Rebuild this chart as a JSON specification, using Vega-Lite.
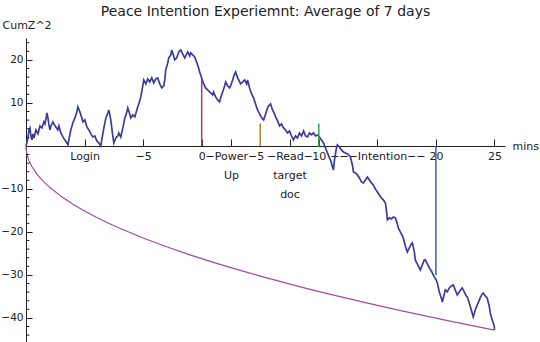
{
  "$schema": "https://vega.github.io/schema/vega-lite/v6.json",
  "width": 479,
  "height": 304,
  "autosize": {"type": "none"},
  "padding": {"left": 26, "top": 38, "right": 35, "bottom": 0},
  "background": "white",
  "title": {"text": "Peace Intention Experiemnt: Average of 7 days", "font": "DejaVu Sans", "fontSize": 14, "fontWeight": "normal", "color": "#222222", "anchor": "middle", "offset": 0},
  "config": {
    "view": {"stroke": null},
    "axis": {"grid": false, "labelFont": "DejaVu Sans", "titleFont": "DejaVu Sans", "labelFontSize": 11, "titleFontSize": 11, "titleFontWeight": "normal", "labelColor": "#222222", "titleColor": "#222222", "domainColor": "#222222", "tickColor": "#222222", "domainWidth": 1, "tickWidth": 1}
  },
  "datasets": {
    "walk": [
      {"x":-15,"y":0},{"x":-14.83,"y":1.86},{"x":-14.75,"y":3.72},{"x":-14.66,"y":4.19},{"x":-14.58,"y":2.33},{"x":-14.49,"y":1.4},{"x":-14.41,"y":2.79},{"x":-14.32,"y":1.86},{"x":-14.15,"y":3.72},{"x":-13.98,"y":2.79},{"x":-13.81,"y":4.65},{"x":-13.64,"y":4.19},{"x":-13.47,"y":5.58},{"x":-13.38,"y":5.12},{"x":-13.21,"y":7.67},{"x":-13.13,"y":6.51},{"x":-13.04,"y":4.88},{"x":-12.96,"y":3.72},{"x":-12.87,"y":4.65},{"x":-12.7,"y":5.58},{"x":-12.62,"y":5.12},{"x":-12.45,"y":4.42},{"x":-12.28,"y":3.72},{"x":-12.19,"y":4.65},{"x":-12.02,"y":3.02},{"x":-11.85,"y":2.09},{"x":-11.68,"y":1.4},{"x":-11.51,"y":0.7},{"x":-11.42,"y":0.23},{"x":-11.34,"y":1.4},{"x":-11.17,"y":3.72},{"x":-11.0,"y":5.35},{"x":-10.83,"y":6.51},{"x":-10.66,"y":7.91},{"x":-10.57,"y":9.07},{"x":-10.4,"y":7.91},{"x":-10.23,"y":6.51},{"x":-10.14,"y":5.58},{"x":-9.97,"y":6.05},{"x":-9.8,"y":4.42},{"x":-9.63,"y":3.72},{"x":-9.46,"y":2.79},{"x":-9.29,"y":2.09},{"x":-9.12,"y":2.33},{"x":-8.95,"y":1.16},{"x":-8.78,"y":0.7},{"x":-8.61,"y":0},{"x":-8.53,"y":1.4},{"x":-8.35,"y":4.19},{"x":-8.18,"y":6.51},{"x":-8.01,"y":7.67},{"x":-7.93,"y":8.37},{"x":-7.76,"y":6.05},{"x":-7.59,"y":2.33},{"x":-7.5,"y":0.7},{"x":-7.33,"y":1.86},{"x":-7.16,"y":2.33},{"x":-7.08,"y":3.02},{"x":-6.91,"y":2.09},{"x":-6.73,"y":4.19},{"x":-6.56,"y":6.51},{"x":-6.39,"y":7.91},{"x":-6.31,"y":8.84},{"x":-6.14,"y":7.44},{"x":-6.05,"y":6.51},{"x":-5.88,"y":7.21},{"x":-5.71,"y":6.74},{"x":-5.46,"y":9.07},{"x":-5.37,"y":9.77},{"x":-5.2,"y":11.4},{"x":-5.12,"y":12.56},{"x":-5.03,"y":13.95},{"x":-4.94,"y":15.35},{"x":-4.77,"y":14.42},{"x":-4.6,"y":15.58},{"x":-4.43,"y":14.88},{"x":-4.26,"y":15.81},{"x":-4.09,"y":14.65},{"x":-3.92,"y":15.58},{"x":-3.75,"y":15.81},{"x":-3.58,"y":14.42},{"x":-3.41,"y":13.49},{"x":-3.24,"y":13.95},{"x":-3.15,"y":15.35},{"x":-3.07,"y":17.67},{"x":-2.9,"y":19.3},{"x":-2.81,"y":20.47},{"x":-2.64,"y":21.16},{"x":-2.56,"y":22.33},{"x":-2.39,"y":20.93},{"x":-2.3,"y":20.0},{"x":-2.13,"y":20.47},{"x":-1.96,"y":21.86},{"x":-1.79,"y":22.33},{"x":-1.62,"y":21.4},{"x":-1.45,"y":20.47},{"x":-1.36,"y":20.93},{"x":-1.19,"y":21.86},{"x":-1.02,"y":20.93},{"x":-0.94,"y":21.63},{"x":-0.77,"y":21.16},{"x":-0.6,"y":20.7},{"x":-0.43,"y":19.53},{"x":-0.26,"y":18.14},{"x":-0.17,"y":17.21},{"x":0.0,"y":15.81},{"x":0.17,"y":14.42},{"x":0.34,"y":13.49},{"x":0.51,"y":13.02},{"x":0.68,"y":12.56},{"x":0.77,"y":12.33},{"x":0.94,"y":11.86},{"x":1.02,"y":12.56},{"x":1.19,"y":11.4},{"x":1.36,"y":10.7},{"x":1.53,"y":10.23},{"x":1.62,"y":11.16},{"x":1.79,"y":12.56},{"x":1.96,"y":13.95},{"x":2.05,"y":14.88},{"x":2.22,"y":13.95},{"x":2.39,"y":13.49},{"x":2.47,"y":13.95},{"x":2.64,"y":15.35},{"x":2.81,"y":16.74},{"x":2.9,"y":17.21},{"x":3.07,"y":15.81},{"x":3.24,"y":14.88},{"x":3.32,"y":14.42},{"x":3.5,"y":14.88},{"x":3.67,"y":15.35},{"x":3.84,"y":14.42},{"x":3.92,"y":15.35},{"x":4.09,"y":13.49},{"x":4.26,"y":12.09},{"x":4.43,"y":11.16},{"x":4.6,"y":9.77},{"x":4.77,"y":8.37},{"x":4.86,"y":7.91},{"x":5.03,"y":6.98},{"x":5.2,"y":6.28},{"x":5.29,"y":6.05},{"x":5.46,"y":7.44},{"x":5.63,"y":8.84},{"x":5.71,"y":9.3},{"x":5.88,"y":9.77},{"x":6.05,"y":8.37},{"x":6.22,"y":7.44},{"x":6.31,"y":6.74},{"x":6.48,"y":5.81},{"x":6.65,"y":4.65},{"x":6.82,"y":5.12},{"x":6.99,"y":4.19},{"x":7.16,"y":3.72},{"x":7.33,"y":3.02},{"x":7.5,"y":3.49},{"x":7.67,"y":2.33},{"x":7.84,"y":1.4},{"x":8.01,"y":2.33},{"x":8.18,"y":1.86},{"x":8.35,"y":3.02},{"x":8.53,"y":2.33},{"x":8.7,"y":3.49},{"x":8.87,"y":2.33},{"x":9.04,"y":2.09},{"x":9.21,"y":3.02},{"x":9.38,"y":2.56},{"x":9.55,"y":3.02},{"x":9.72,"y":2.33},{"x":9.89,"y":2.56},{"x":10.06,"y":2.09},{"x":10.23,"y":1.4},{"x":10.4,"y":0.7},{"x":10.57,"y":-0.47},{"x":10.74,"y":-1.63},{"x":10.91,"y":-2.79},{"x":11.0,"y":-3.26},{"x":11.17,"y":-4.88},{"x":11.25,"y":-5.58},{"x":11.34,"y":-3.26},{"x":11.51,"y":-0.47},{"x":11.59,"y":0.23},{"x":11.76,"y":-0.23},{"x":11.94,"y":-0.93},{"x":12.11,"y":-1.4},{"x":12.28,"y":-1.63},{"x":12.45,"y":-1.86},{"x":12.62,"y":-2.33},{"x":12.7,"y":-2.56},{"x":12.87,"y":-4.42},{"x":12.96,"y":-6.05},{"x":13.13,"y":-6.28},{"x":13.3,"y":-6.74},{"x":13.47,"y":-7.44},{"x":13.64,"y":-8.37},{"x":13.81,"y":-8.6},{"x":13.98,"y":-7.91},{"x":14.15,"y":-7.21},{"x":14.32,"y":-7.91},{"x":14.49,"y":-8.6},{"x":14.66,"y":-9.07},{"x":14.83,"y":-10.0},{"x":15.0,"y":-10.7},{"x":15.17,"y":-11.4},{"x":15.35,"y":-12.09},{"x":15.52,"y":-12.56},{"x":15.69,"y":-13.26},{"x":15.77,"y":-14.88},{"x":15.86,"y":-17.21},{"x":16.03,"y":-16.74},{"x":16.2,"y":-16.98},{"x":16.37,"y":-16.51},{"x":16.54,"y":-16.74},{"x":16.71,"y":-18.14},{"x":16.79,"y":-19.07},{"x":16.96,"y":-20.0},{"x":17.14,"y":-20.93},{"x":17.22,"y":-21.4},{"x":17.39,"y":-23.26},{"x":17.56,"y":-24.65},{"x":17.73,"y":-23.72},{"x":17.9,"y":-22.79},{"x":17.99,"y":-22.56},{"x":18.16,"y":-24.65},{"x":18.24,"y":-26.51},{"x":18.41,"y":-27.44},{"x":18.58,"y":-28.37},{"x":18.67,"y":-28.84},{"x":18.84,"y":-27.67},{"x":19.01,"y":-26.51},{"x":19.1,"y":-26.51},{"x":19.27,"y":-27.44},{"x":19.44,"y":-28.37},{"x":19.61,"y":-29.07},{"x":19.69,"y":-29.53},{"x":19.86,"y":-30.47},{"x":20.03,"y":-31.16},{"x":20.12,"y":-31.86},{"x":20.29,"y":-33.95},{"x":20.46,"y":-35.35},{"x":20.55,"y":-36.28},{"x":20.72,"y":-34.42},{"x":20.8,"y":-33.49},{"x":20.97,"y":-33.95},{"x":21.14,"y":-33.02},{"x":21.31,"y":-32.56},{"x":21.48,"y":-32.33},{"x":21.65,"y":-33.49},{"x":21.82,"y":-34.65},{"x":21.99,"y":-33.95},{"x":22.17,"y":-33.26},{"x":22.25,"y":-33.02},{"x":22.42,"y":-33.95},{"x":22.59,"y":-34.88},{"x":22.68,"y":-35.12},{"x":22.85,"y":-36.51},{"x":23.02,"y":-38.14},{"x":23.19,"y":-39.77},{"x":23.36,"y":-38.14},{"x":23.53,"y":-36.98},{"x":23.61,"y":-36.51},{"x":23.78,"y":-35.35},{"x":23.95,"y":-34.42},{"x":24.04,"y":-34.19},{"x":24.21,"y":-34.88},{"x":24.38,"y":-35.35},{"x":24.55,"y":-37.21},{"x":24.64,"y":-38.84},{"x":24.81,"y":-40.47},{"x":24.98,"y":-41.86},{"x":25.0,"y":-42.79}
    ],
    "curve": [
      {"x":-15,"y":0},{"x":-14.98,"y":-0.96},{"x":-14.9,"y":-2.14},{"x":-14.75,"y":-3.39},{"x":-14.5,"y":-4.79},{"x":-14,"y":-6.77},{"x":-13.5,"y":-8.29},{"x":-13,"y":-9.57},{"x":-12,"y":-11.73},{"x":-11,"y":-13.54},{"x":-10,"y":-15.14},{"x":-9,"y":-16.58},{"x":-8,"y":-17.91},{"x":-7,"y":-19.15},{"x":-5,"y":-21.41},{"x":-3,"y":-23.45},{"x":-1,"y":-25.33},{"x":1,"y":-27.08},{"x":3,"y":-28.72},{"x":5,"y":-30.28},{"x":7,"y":-31.75},{"x":9,"y":-33.17},{"x":11,"y":-34.52},{"x":13,"y":-35.82},{"x":15,"y":-37.08},{"x":17,"y":-38.3},{"x":19,"y":-39.48},{"x":21,"y":-40.62},{"x":23,"y":-41.73},{"x":25,"y":-42.82}
    ],
    "events": [
      {"event":"Power Up","x":0,"y":0,"y2":15.6},
      {"event":"Read target doc","x":5,"y":0,"y2":5.2},
      {"event":"Intention","x":10,"y":-0.3,"y2":5.2},
      {"event":"End","x":20,"y":0,"y2":-30}
    ],
    "minor": [
      {"y":-44},{"y":-42},{"y":-38},{"y":-36},{"y":-34},{"y":-32},{"y":-28},{"y":-26},{"y":-24},{"y":-22},{"y":-18},{"y":-16},{"y":-14},{"y":-12},{"y":-8},{"y":-6},{"y":-4},{"y":-2},{"y":2},{"y":4},{"y":6},{"y":8},{"y":12},{"y":14},{"y":16},{"y":18},{"y":22},{"y":24}
    ]
  },
  "layer": [
    {
      "data": {"name": "walk"},
      "mark": {"type": "line", "color": "#3d3d99", "strokeWidth": 1.7},
      "encoding": {
        "x": {"field": "x", "type": "quantitative", "scale": {"domain": [-15, 25.9], "nice": false, "zero": false},
              "axis": {"orient": "bottom", "offset": -196, "values": [-10,-5,0,2.5,5,7.5,10,15,20,25], "tickSize": -7, "labelPadding": 11, "labelOverlap": false, "labelLineHeight": 19, "labelBaseline": "top",
                       "labelExpr": "datum.value == -10 ? 'Login' : datum.value == 2.5 ? ['−Power−', 'Up'] : datum.value == 7.5 ? ['−Read−', 'target', 'doc'] : datum.value == 15 ? '−−−Intention−−' : datum.label",
                       "title": "mins", "titleAngle": 0, "titleAlign": "left", "titleBaseline": "middle", "titleX": 486, "titleY": 0}},
        "y": {"field": "y", "type": "quantitative", "scale": {"domain": [-45.6, 25.1], "nice": false, "zero": false},
              "axis": {"orient": "left", "values": [-40,-30,-20,-10,10,20], "tickSize": -6, "labelPadding": 9, "labelFontSize": 10.5,
                       "title": "CumZ^2", "titleAngle": 0, "titleAlign": "left", "titleBaseline": "middle", "titleX": -24, "titleY": -13}}
      }
    },
    {
      "data": {"name": "curve"},
      "mark": {"type": "line", "color": "#a04ca3", "strokeWidth": 1.2},
      "encoding": {
        "x": {"field": "x", "type": "quantitative"},
        "y": {"field": "y", "type": "quantitative"}
      }
    },
    {
      "data": {"name": "events"},
      "mark": {"type": "rule", "strokeWidth": 1.5},
      "encoding": {
        "x": {"field": "x", "type": "quantitative"},
        "y": {"field": "y", "type": "quantitative"},
        "y2": {"field": "y2"},
        "color": {"field": "event", "type": "nominal", "legend": null,
                  "scale": {"domain": ["Power Up", "Read target doc", "Intention", "End"], "range": ["#aa3c6e", "#a88c3c", "#3ca050", "#3c5aaa"]}}
      }
    },
    {
      "data": {"name": "minor"},
      "mark": {"type": "rule", "color": "#222222", "strokeWidth": 1},
      "encoding": {
        "x": {"datum": -15, "type": "quantitative"},
        "x2": {"datum": -14.7},
        "y": {"field": "y", "type": "quantitative"}
      }
    }
  ]
}
